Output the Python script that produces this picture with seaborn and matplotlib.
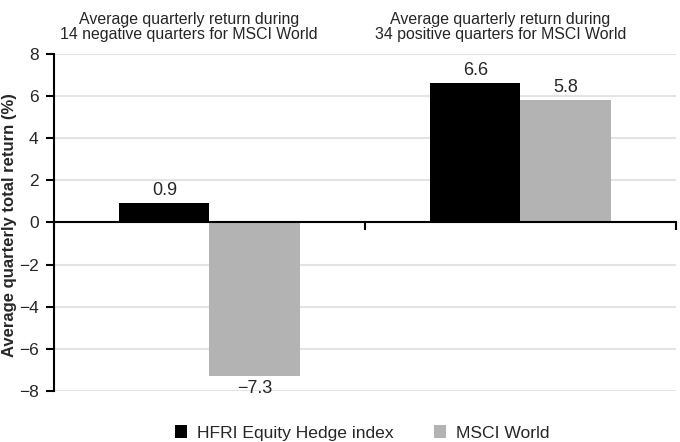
import pandas as pd
import matplotlib.pyplot as plt
import seaborn as sns

# data
groups = ['Average quarterly return during\n14 negative quarters for MSCI World',
          'Average quarterly return during\n34 positive quarters for MSCI World']
series = ['HFRI Equity Hedge index', 'MSCI World']
hfri = [0.9, 6.6]
msci = [-7.3, 5.8]
yticks = [-8, -6, -4, -2, 0, 2, 4, 6, 8]

df = pd.DataFrame({
    'group': groups * 2,
    'series': [series[0]] * 2 + [series[1]] * 2,
    'value': hfri + msci,
})

sns.set_style('white')
plt.rcParams['font.family'] = ['Liberation Sans', 'DejaVu Sans']

fig = plt.figure(figsize=(6.8, 4.42), dpi=100)
ax = fig.add_axes([0.0794, 0.1154, 0.9146, 0.7626])

sns.barplot(data=df, x='group', y='value', hue='series', hue_order=series,
            palette=['#000000', '#b3b3b3'], width=0.58, saturation=1,
            linewidth=0, ax=ax, legend=True)

ax.set_ylim(-8, 8)
ax.set_yticks(yticks)
ax.set_yticklabels([str(t).replace('-', '\u2212') for t in yticks], fontsize=12.5)
ax.set_xlim(-0.5, 1.5)
ax.yaxis.grid(True, color='#e3e3e3', linewidth=1.5)
ax.set_axisbelow(True)

# bottom spine sits on zero, with ticks at group boundaries
for s in ['top', 'right']:
    ax.spines[s].set_visible(False)
for s in ['bottom', 'left']:
    ax.spines[s].set_visible(True)
    ax.spines[s].set_color('black')
    ax.spines[s].set_linewidth(1.5)
    ax.spines[s].set_zorder(5)
ax.spines['bottom'].set_position(('data', 0))
ax.set_xticks([-0.5, 0.5, 1.5])
ax.set_xticklabels(['', '', ''])
ax.tick_params(axis='x', bottom=True, direction='out', length=6, width=1.5, color='black')
ax.tick_params(axis='y', left=True, direction='out', length=6, width=1.5, color='black', pad=5)
ax.set_xlabel('')
ax.set_ylabel('')
fig.text(10 / 680, 1 - 225 / 442, 'Average quarterly total return (%)', rotation=90,
         ha='center', va='center', fontsize=12, fontweight='bold')

for cont in ax.containers:
    labels = [f'{v:.1f}'.replace('-', '\u2212') for v in cont.datavalues]
    ax.bar_label(cont, labels=labels, padding=3, fontsize=13)

# group titles above the plot
for i, g in enumerate(groups):
    ax.text(i - 0.065, 1.035, g, transform=ax.get_xaxis_transform(), ha='center',
            va='bottom', fontsize=11.4, linespacing=1.0)

ax.get_legend().remove()
handles, labels = ax.get_legend_handles_labels()
fig.legend(handles, labels, loc='center', bbox_to_anchor=(362 / 680, 1 - 433 / 442),
           ncol=2, frameon=False, fontsize=12.6, handlelength=0.7, handleheight=0.7,
           columnspacing=2.3, handletextpad=0.55)

fig.savefig('out.png', dpi=100)
